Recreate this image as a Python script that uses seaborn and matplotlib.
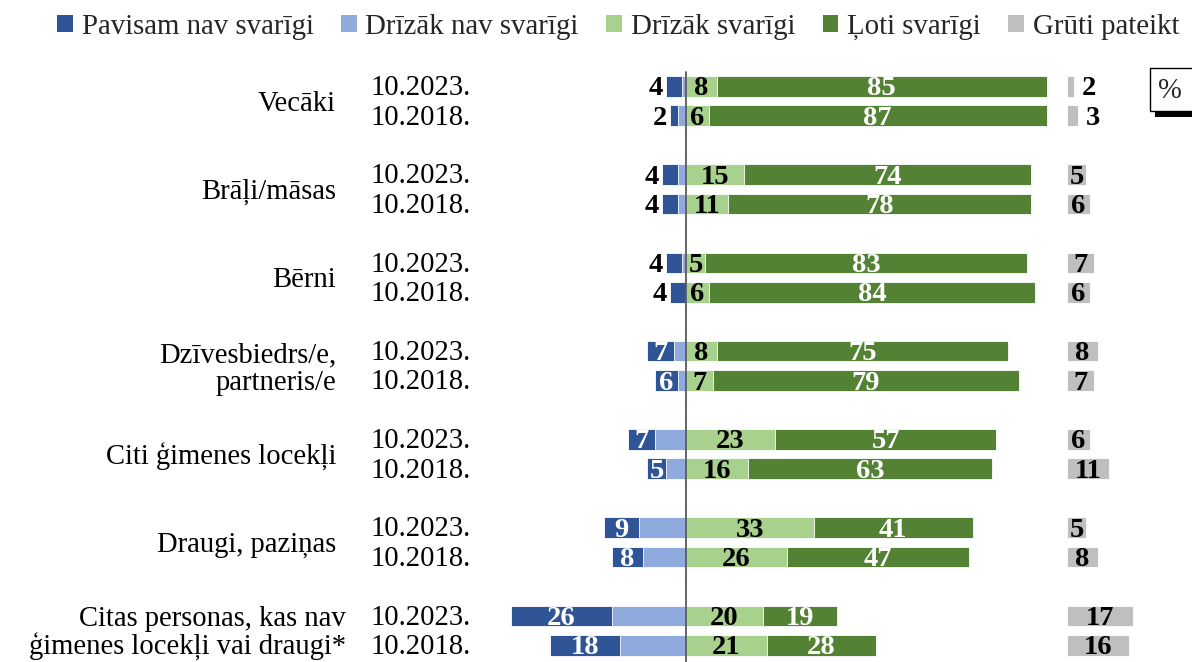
import numpy as np
import pandas as pd
import matplotlib
matplotlib.use("Agg")
import matplotlib.pyplot as plt
from matplotlib.patches import Patch, Rectangle
import seaborn as sns

# ---------------- data ----------------
categories = ["Vecāki", "Brāļi/māsas", "Bērni", "Dzīvesbiedrs/e,\npartneris/e",
              "Citi ģimenes locekļi", "Draugi, paziņas",
              "Citas personas, kas nav\nģimenes locekļi vai draugi*"]
years = ["10.2023.", "10.2018."]
series_names = ["Pavisam nav svarīgi", "Drīzāk nav svarīgi", "Drīzāk svarīgi",
                "Ļoti svarīgi", "Grūti pateikt"]

# per category: [2023, 2018]
pavisam_nav = [[4, 2], [4, 4], [4, 4], [7, 6], [7, 5], [9, 8], [26, 18]]
drizak_nav = [[1, 2], [2, 2], [1, 0], [3, 2], [8, 5], [12, 11], [19, 17]]
drizak_svarigi = [[8, 6], [15, 11], [5, 6], [8, 7], [23, 16], [33, 26], [20, 21]]
loti_svarigi = [[85, 87], [74, 78], [83, 84], [75, 79], [57, 63], [41, 47], [19, 28]]
gruti_pateikt = [[2, 3], [5, 6], [7, 6], [8, 7], [6, 11], [5, 8], [17, 16]]

colors = ["#2F5597", "#8FAADC", "#A9D18E", "#548235", "#BFBFBF"]

# ---------------- table ----------------
records = []
order = []
for g, cat in enumerate(categories):
    for k, yr in enumerate(years):
        key = f"{g}-{k}"
        order.append(key)
        records.append(dict(row=key, cat=cat, year=yr,
                            db=pavisam_nav[g][k], lb=drizak_nav[g][k],
                            lg=drizak_svarigi[g][k], dg=loti_svarigi[g][k],
                            gr=gruti_pateikt[g][k]))
    if g < len(categories) - 1:
        order.append(f"gap{g}")
df = pd.DataFrame(records)
df["neg_total"] = -(df["db"] + df["lb"])
df["neg_light"] = -df["lb"]
df["pos_total"] = df["lg"] + df["dg"]
pos = {k: i for i, k in enumerate(order)}
df["ypos"] = df["row"].map(pos)

# ---------------- figure ----------------
sns.set_style("white")
plt.rcParams["font.family"] = ["Liberation Serif", "DejaVu Serif"]

W, H = 1192, 662
fig = plt.figure(figsize=(W / 100, H / 100), dpi=100)
ax = fig.add_axes([0, 0, 1, 1])

CX = 685.7      # pixel of zero
SX = 3.88       # pixels per percent
Y0P = 86.3      # pixel of first row
SY = 29.42      # pixels per slot


def px2x(p):
    return (p - CX) / SX


def py2y(p):
    return (p - Y0P) / SY


BW = 0.70
GREY_START = px2x(1066.7)
common = dict(data=df, y="row", order=order, orient="h", width=BW,
              errorbar=None, ax=ax, edgecolor="white", linewidth=0.6,
              saturation=1)

sns.barplot(x="neg_total", color=colors[0], **common)
sns.barplot(x="neg_light", color=colors[1], **common)
sns.barplot(x="pos_total", color=colors[3], **common)
sns.barplot(x="lg", color=colors[2], **common)
sns.barplot(x="gr", color=colors[4], left=GREY_START, **common)

ax.set_xlim(px2x(0), px2x(W))
ax.set_ylim(py2y(H), py2y(0))
ax.set_xticks([])
ax.set_yticks([])
ax.set_xlabel("")
ax.set_ylabel("")
for s in ax.spines.values():
    s.set_visible(False)

# zero line
ax.plot([0, 0], [py2y(72), py2y(H)], color="#595959", lw=1.3, zorder=5)

# ---------------- labels ----------------
FS = 20.6
NFS = 20.5
DY = 0.31   # baseline offset (slot units) so digits sit centred on bars
for _, r in df.iterrows():
    y = r["ypos"] + DY
    nk = dict(va="baseline", fontsize=NFS, fontweight="bold")
    # dark blue
    left_db = -(r["db"] + r["lb"])
    if r["db"] >= 5:
        ax.text(left_db + r["db"] / 2, y, str(r["db"]), ha="center",
                color="white", **nk)
    else:
        ax.text(left_db - 0.8, y, str(r["db"]), ha="right", color="black", **nk)
    # light green
    ax.text(r["lg"] / 2, y, str(r["lg"]), ha="center", color="black", **nk)
    # dark green
    ax.text(r["lg"] + r["dg"] / 2, y, str(r["dg"]), ha="center",
            color="white", **nk)
    # grey
    if r["gr"] <= 3:
        ax.text(GREY_START + r["gr"] + 1.8, y, str(r["gr"]), ha="left",
                color="black", **nk)
    else:
        ax.text(GREY_START + r["gr"] / 2, y, str(r["gr"]), ha="center",
                color="black", **nk)
    # year label
    ax.text(px2x(370), r["ypos"] + 0.30, r["year"], ha="left", va="baseline",
            fontsize=FS, color="black")

for g, cat in enumerate(categories):
    y0 = pos[f"{g}-0"]
    xr = 336 if "\n" not in cat or g == 3 else 346
    ax.text(px2x(xr), y0 + 0.6, cat, ha="right", va="center", fontsize=FS,
            color="black", linespacing=1.08, multialignment="right")

# ---------------- legend ----------------
handles = [Patch(facecolor=c, edgecolor="none") for c in colors]
fig.legend(handles, series_names, loc="center left",
           bbox_to_anchor=(57 / W, 1 - 27 / H), ncol=5, frameon=False,
           fontsize=20.8, handlelength=0.55, handleheight=0.55,
           handletextpad=0.3, columnspacing=0.95, borderpad=0,
           borderaxespad=0)

# ---------------- % box ----------------
fig.add_artist(Rectangle((1155 / W, 1 - 117 / H), 45 / W, 6 / H,
                         transform=fig.transFigure, facecolor="black",
                         edgecolor="none"))
fig.add_artist(Rectangle((1150 / W, 1 - 111 / H), 48 / W, 43 / H,
                         transform=fig.transFigure, facecolor="white",
                         edgecolor="black", linewidth=1.0))
fig.text(1170 / W, 1 - 91 / H, "%", ha="center", va="center", fontsize=FS)

fig.savefig("out.png", dpi=100)
